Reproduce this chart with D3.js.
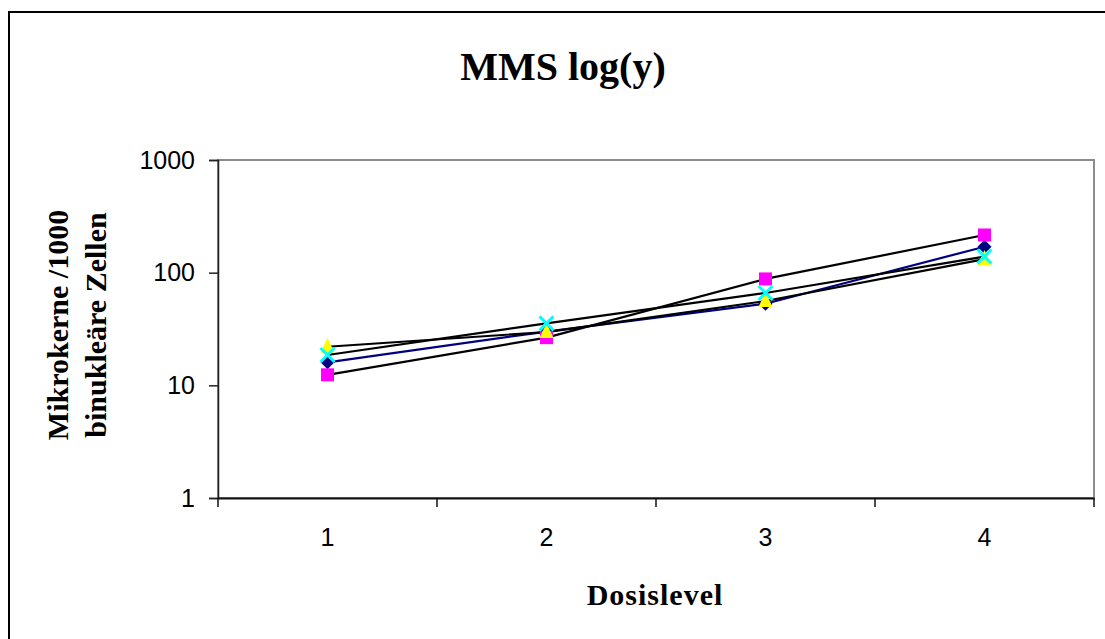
<!DOCTYPE html>
<html>
<head>
<meta charset="utf-8">
<script src="https://cdn.jsdelivr.net/npm/d3@7"></script>
<style>
  html, body { margin: 0; padding: 0; background: #fff; }
  svg { display: block; }
  .tick text { font-family: "Liberation Sans", Arial, sans-serif; font-size: 25px; fill: #000; }
  .ttl { font-family: "Liberation Serif", "Times New Roman", serif; font-weight: bold; fill: #000; }
</style>
</head>
<body>
<svg id="chart" width="1105" height="639"></svg>
<script>
const WIDTH = 1105;
const HEIGHT = 639;

// data
const categories = ["1", "2", "3", "4"];
const yTicks = [1, 10, 100, 1000];
const seriesDiamond = [16, 30, 53, 170];
const seriesSquare = [12.4, 26.5, 88, 216];
const seriesTriangle = [22, 29.7, 56, 132];
const seriesCross = [18.6, 35.5, 66, 139];

const series = [
  { name: "s1", values: seriesDiamond, line: "#000080", fill: "#000080", shape: "diamond" },
  { name: "s2", values: seriesSquare, line: "#000000", fill: "#FF00FF", shape: "square" },
  { name: "s3", values: seriesTriangle, line: "#000000", fill: "#FFFF00", shape: "triangle" },
  { name: "s4", values: seriesCross, line: "#000000", fill: "#00FFFF", shape: "cross" }
];

const plot = { left: 218, right: 1094, top: 160, bottom: 498 };

const svg = d3.select("#chart");

// outer chart frame (runs off the right/bottom edge like the original)
svg.append("rect")
  .attr("x", 9).attr("y", 12)
  .attr("width", WIDTH + 10).attr("height", HEIGHT + 10)
  .attr("fill", "#fff").attr("stroke", "#000").attr("stroke-width", 2);

const x = d3.scaleBand().domain(categories).range([plot.left, plot.right]).padding(0);
const xEdge = d3.scaleLinear().domain([0, categories.length]).range([plot.left, plot.right]);
const y = d3.scaleLog().domain([1, 1000]).range([plot.bottom, plot.top]);

// plot area border (grey top/right)
svg.append("rect")
  .attr("x", plot.left).attr("y", plot.top)
  .attr("width", plot.right - plot.left).attr("height", plot.bottom - plot.top)
  .attr("fill", "none").attr("stroke", "#8c8c8c").attr("stroke-width", 2);

// y axis
const yAxis = svg.append("g")
  .attr("transform", `translate(${plot.left},0)`)
  .call(d3.axisLeft(y).tickValues(yTicks).tickFormat(d3.format("d")).tickSize(9).tickPadding(14));
yAxis.select(".domain").attr("stroke", "#222").attr("stroke-width", 1.5);
yAxis.selectAll(".tick line").attr("stroke", "#222").attr("stroke-width", 1.5);

// x axis: labels centered in bands, ticks between categories
const xAxis = svg.append("g")
  .attr("transform", `translate(0,${plot.bottom})`)
  .call(d3.axisBottom(x).tickSize(0).tickPadding(30));
xAxis.select(".domain").attr("stroke", "#111").attr("stroke-width", 2);
svg.append("g").selectAll("line")
  .data(d3.range(categories.length + 1))
  .join("line")
  .attr("x1", d => xEdge(d)).attr("x2", d => xEdge(d))
  .attr("y1", plot.bottom).attr("y2", plot.bottom + 9)
  .attr("stroke", "#111").attr("stroke-width", 1.5);

// lines
const line = d3.line()
  .x((d, i) => x(categories[i]) + x.bandwidth() / 2)
  .y(d => y(d));

svg.append("g").selectAll("path")
  .data(series)
  .join("path")
  .attr("d", s => line(s.values))
  .attr("fill", "none")
  .attr("stroke", s => s.line)
  .attr("stroke-width", 2.2);

// markers
function drawMarker(g, shape, fill) {
  if (shape === "diamond") {
    g.append("path").attr("d", "M0,-7L7,0L0,7L-7,0Z").attr("fill", fill);
  } else if (shape === "square") {
    g.append("rect").attr("x", -6.5).attr("y", -6.5).attr("width", 13).attr("height", 13).attr("fill", fill);
  } else if (shape === "triangle") {
    g.append("path").attr("d", "M0,-9L7,6L-7,6Z").attr("fill", fill);
  } else if (shape === "cross") {
    g.append("path").attr("d", "M-7,-7L7,7M-7,7L7,-7")
      .attr("stroke", fill).attr("stroke-width", 3).attr("fill", "none");
  }
}

series.forEach(s => {
  s.values.forEach((v, i) => {
    const g = svg.append("g")
      .attr("transform", `translate(${x(categories[i]) + x.bandwidth() / 2},${y(v)})`);
    drawMarker(g, s.shape, s.fill);
  });
});

// titles
svg.append("text").attr("class", "ttl")
  .attr("x", 563).attr("y", 80)
  .attr("text-anchor", "middle").attr("font-size", 40)
  .text("MMS log(y)");

svg.append("text").attr("class", "ttl")
  .attr("x", 655).attr("y", 605)
  .attr("text-anchor", "middle").attr("font-size", 30)
  .attr("letter-spacing", 1)
  .text("Dosislevel");

const yTitle = svg.append("text").attr("class", "ttl")
  .attr("transform", "translate(68,325) rotate(-90)")
  .attr("text-anchor", "middle").attr("font-size", 30);
yTitle.append("tspan").attr("x", 0).attr("dy", 0).text("Mikrokerne /1000");
yTitle.append("tspan").attr("x", 0).attr("dy", 38).text("binukleäre Zellen");
</script>
</body>
</html>
